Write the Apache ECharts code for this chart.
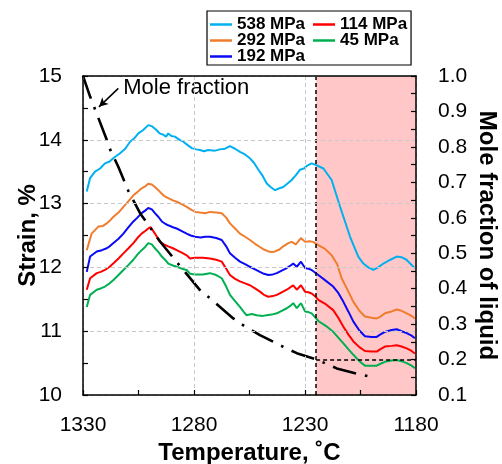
<!DOCTYPE html>
<html>
<head>
<meta charset="utf-8">
<script src="https://cdn.jsdelivr.net/npm/echarts@6/dist/echarts.min.js"></script>
<style>
  html, body { margin: 0; padding: 0; background: #fff; }
  #chart { width: 502px; height: 464px; }
</style>
</head>
<body>
<div id="chart"></div>
<script>
// Strain (%) versus temperature (°C) for each applied stress, as [T, strain] pairs.
const strain538 = [
  [1328.3,13.19],[1326.8,13.40],[1324.6,13.50],[1322.3,13.55],[1320.1,13.63],[1318.0,13.66],[1316.4,13.71],
  [1313.3,13.79],[1311.0,13.86],[1308.8,13.97],[1307.0,14.02],[1305.1,14.10],[1303.0,14.15],[1300.6,14.23],
  [1298.8,14.21],[1296.8,14.15],[1295.5,14.10],[1293.8,14.08],[1292.6,14.05],[1291.6,14.10],[1290.2,14.06],
  [1288.6,14.05],[1286.5,14.00],[1284.8,13.97],[1283.0,13.92],[1281.0,13.87],[1279.0,13.85],[1277.3,13.84],
  [1275.5,13.82],[1273.6,13.84],[1272.8,13.81],[1270.5,13.83],[1268.3,13.85],[1266.0,13.86],[1263.8,13.90],
  [1261.5,13.86],[1259.3,13.81],[1257.0,13.77],[1254.8,13.71],[1253.0,13.64],[1251.0,13.53],[1249.0,13.43],
  [1247.3,13.32],[1245.5,13.26],[1243.5,13.21],[1241.5,13.24],[1239.8,13.26],[1238.0,13.31],[1236.0,13.37],
  [1234.0,13.45],[1232.3,13.53],[1230.5,13.55],[1229.2,13.59],[1227.0,13.63],[1224.7,13.60],[1221.7,13.55],
  [1218.0,13.37],[1214.2,12.95],[1209.7,12.48],[1206.0,12.17],[1203.7,12.06],[1201.5,12.00],[1199.2,11.96],
  [1197.0,12.00],[1194.7,12.06],[1191.5,12.12],[1188.7,12.17],[1186.5,12.16],[1184.3,12.12],[1181.2,12.01],
  [1180.5,11.99]
];
const strain292 = [
  [1328.3,12.27],[1326.1,12.53],[1323.1,12.64],[1321.0,12.65],[1319.3,12.69],[1318.0,12.73],[1316.4,12.79],
  [1314.0,12.86],[1311.8,12.95],[1309.5,13.04],[1307.3,13.13],[1305.5,13.18],[1303.6,13.24],[1302.0,13.27],
  [1300.6,13.31],[1299.0,13.30],[1297.6,13.26],[1295.8,13.20],[1293.8,13.13],[1292.5,13.10],[1291.6,13.08],
  [1289.5,13.05],[1287.8,13.03],[1285.5,12.99],[1283.3,12.95],[1281.5,12.91],[1279.5,12.87],[1277.3,12.86],
  [1275.0,12.85],[1272.8,12.87],[1270.0,12.86],[1267.5,12.85],[1265.5,12.78],[1263.8,12.69],[1261.5,12.61],
  [1259.3,12.53],[1257.0,12.48],[1254.8,12.43],[1252.5,12.37],[1250.3,12.32],[1248.5,12.28],[1246.5,12.25],
  [1245.0,12.24],[1243.5,12.25],[1241.5,12.28],[1239.8,12.33],[1237.5,12.38],[1236.0,12.40],[1234.1,12.36],
  [1233.0,12.41],[1231.8,12.46],[1230.0,12.40],[1228.0,12.41],[1226.3,12.40],[1224.0,12.35],[1221.0,12.29],
  [1218.0,12.19],[1215.5,12.05],[1213.5,11.83],[1211.0,11.66],[1208.2,11.46],[1205.5,11.32],[1203.0,11.23],
  [1200.0,11.21],[1197.7,11.20],[1196.0,11.23],[1194.0,11.28],[1191.0,11.31],[1188.7,11.34],[1186.5,11.32],
  [1184.2,11.28],[1182.0,11.24],[1180.5,11.20]
];
const strain192 = [
  [1328.3,11.93],[1326.8,12.17],[1323.8,12.25],[1321.5,12.27],[1319.3,12.30],[1318.0,12.33],[1316.4,12.38],
  [1314.0,12.45],[1311.8,12.53],[1309.5,12.63],[1307.3,12.72],[1305.5,12.78],[1303.6,12.85],[1302.0,12.89],
  [1300.6,12.93],[1299.0,12.91],[1297.6,12.85],[1296.0,12.79],[1294.5,12.72],[1292.8,12.68],[1291.6,12.66],
  [1289.5,12.63],[1287.8,12.61],[1285.5,12.57],[1283.3,12.53],[1281.5,12.50],[1279.5,12.48],[1277.0,12.47],
  [1275.0,12.48],[1272.8,12.48],[1270.0,12.46],[1267.5,12.43],[1265.5,12.33],[1263.8,12.22],[1261.5,12.15],
  [1259.3,12.09],[1257.0,12.05],[1254.8,12.01],[1252.5,11.97],[1250.3,11.93],[1248.5,11.90],[1246.5,11.88],
  [1244.5,11.89],[1242.7,11.91],[1240.5,11.95],[1238.2,11.99],[1236.5,12.03],[1235.3,12.06],[1233.7,12.01],
  [1231.8,12.09],[1230.0,11.99],[1228.5,11.98],[1227.0,11.96],[1225.5,11.92],[1224.0,11.88],[1221.0,11.80],
  [1217.3,11.70],[1215.0,11.60],[1212.7,11.46],[1210.5,11.31],[1208.2,11.15],[1205.5,11.01],[1203.0,10.92],
  [1200.0,10.91],[1197.7,10.91],[1196.0,10.95],[1194.0,10.99],[1191.0,11.02],[1188.7,11.03],[1186.5,11.00],
  [1184.2,10.97],[1182.0,10.93],[1180.5,10.89]
];
const strain114 = [
  [1328.3,11.65],[1326.8,11.83],[1323.8,11.91],[1322.0,11.93],[1320.1,11.96],[1318.0,12.01],[1316.4,12.06],
  [1314.0,12.14],[1311.8,12.22],[1309.5,12.30],[1307.3,12.38],[1305.5,12.46],[1303.6,12.53],[1302.0,12.57],
  [1300.6,12.61],[1299.5,12.63],[1297.6,12.53],[1295.3,12.40],[1293.5,12.36],[1291.6,12.33],[1289.5,12.30],
  [1287.8,12.27],[1285.5,12.23],[1283.3,12.19],[1281.8,12.14],[1279.5,12.15],[1278.8,12.14],[1276.0,12.15],
  [1272.8,12.14],[1270.0,12.12],[1267.5,12.09],[1265.5,11.98],[1263.8,11.88],[1261.5,11.82],[1259.3,11.78],
  [1257.0,11.75],[1254.8,11.72],[1252.5,11.67],[1250.3,11.62],[1248.5,11.57],[1246.5,11.54],[1244.5,11.55],
  [1242.7,11.57],[1240.5,11.61],[1238.2,11.65],[1236.5,11.69],[1235.3,11.72],[1233.7,11.65],[1231.8,11.72],
  [1230.0,11.62],[1228.5,11.61],[1227.0,11.59],[1225.5,11.55],[1224.0,11.49],[1220.5,11.42],[1217.3,11.33],
  [1215.0,11.21],[1212.7,11.07],[1210.5,10.95],[1208.2,10.84],[1205.5,10.75],[1203.0,10.69],[1200.0,10.68],
  [1197.7,10.68],[1196.0,10.72],[1194.0,10.76],[1191.0,10.77],[1188.7,10.78],[1186.5,10.76],[1184.2,10.73],
  [1182.0,10.69],[1180.5,10.65]
];
const strain45 = [
  [1328.3,11.38],[1326.8,11.57],[1323.8,11.65],[1322.0,11.67],[1320.1,11.70],[1318.0,11.75],[1316.4,11.80],
  [1314.0,11.88],[1311.8,11.96],[1309.5,12.04],[1307.3,12.12],[1305.5,12.20],[1303.6,12.27],[1302.0,12.32],
  [1300.6,12.38],[1299.0,12.36],[1297.6,12.30],[1296.0,12.24],[1294.5,12.17],[1292.5,12.10],[1291.6,12.06],
  [1289.5,12.03],[1287.8,12.01],[1285.5,11.98],[1283.3,11.96],[1281.8,11.90],[1279.5,11.89],[1278.8,11.88],
  [1276.0,11.89],[1272.8,11.91],[1270.0,11.88],[1267.5,11.83],[1265.5,11.70],[1263.8,11.57],[1261.5,11.47],
  [1259.3,11.38],[1257.5,11.30],[1256.3,11.25],[1254.0,11.27],[1251.8,11.25],[1249.0,11.24],[1247.3,11.25],
  [1245.0,11.26],[1242.7,11.28],[1240.5,11.32],[1238.2,11.36],[1236.5,11.40],[1235.3,11.44],[1233.7,11.36],
  [1231.8,11.44],[1230.0,11.31],[1228.5,11.30],[1227.0,11.28],[1225.5,11.22],[1224.0,11.16],[1220.5,11.08],
  [1217.3,10.99],[1215.0,10.90],[1212.7,10.81],[1210.5,10.72],[1208.2,10.63],[1205.5,10.53],[1203.0,10.46],
  [1200.0,10.46],[1197.7,10.46],[1196.0,10.49],[1194.0,10.52],[1191.0,10.54],[1188.7,10.55],[1186.5,10.53],
  [1184.2,10.50],[1182.0,10.46],[1180.5,10.42]
];

// Calculated mole fraction of liquid versus temperature, as [T, fraction] pairs.
const moleFraction = [
  [1330.0,1.000],[1326.8,0.942],[1323.1,0.882],[1319.3,0.820],[1317.8,0.793],[1314.1,0.744],[1309.6,0.676],
  [1304.3,0.613],[1295.3,0.533],[1287.1,0.470],[1277.3,0.396],[1272.8,0.373],[1262.3,0.316],[1257.0,0.293],
  [1250.3,0.269],[1239.8,0.236],[1233.7,0.218],[1224.7,0.200],[1215.7,0.175],[1206.0,0.159],[1200.7,0.152]
];

// Series names, legend columns and the reference values marked on the plot.
const seriesNames = ['538 MPa', '292 MPa', '192 MPa', '114 MPa', '45 MPa'];
const legendColumnA = ['538 MPa', '292 MPa', '192 MPa'];
const legendColumnB = ['114 MPa', '45 MPa'];
const solidusTemperature = 1225;
const solidusFraction = 0.2;
const annotationText = 'Mole fraction';
const annotationFrom = [1314.1, 0.965];
const annotationTo = [1322.8, 0.913];

// Axis ranges and tick steps.
const tempRange = [1180, 1330];
const tempStep = 50;
const strainRange = [10, 15];
const strainStep = 1;
const fractionRange = [0.1, 1.0];
const fractionStep = 0.1;

const FONT = '"Liberation Sans", Arial, Helvetica, sans-serif';
const colors = ['#00B0F0', '#F07D2E', '#0A0AF5', '#FF0000', '#00B050'];
const strainData = [strain538, strain292, strain192, strain114, strain45];

const chart = echarts.init(document.getElementById('chart'), null, { renderer: 'canvas' });

const strainSeries = seriesNames.map((name, i) => ({
  name: name,
  type: 'line',
  data: strainData[i],
  symbol: 'none',
  showSymbol: false,
  silent: true,
  z: 3,
  itemStyle: { color: colors[i] },
  lineStyle: { color: colors[i], width: 2 }
}));

const frameLine = { show: true, onZero: false, lineStyle: { color: '#000', width: 1.5 } };
const tickStyle = { color: '#000', width: 1.2 };
const labelStyle = { color: '#000', fontSize: 21, fontFamily: FONT };
const titleStyle = { color: '#000', fontSize: 24, fontWeight: 'bold', fontFamily: FONT };
const gridLine = { show: true, lineStyle: { color: '#c8c8c8', type: [4, 3], width: 1 } };
const legendText = { color: '#000', fontSize: 17, fontWeight: 'bold', fontFamily: FONT };

chart.setOption({
  animation: false,
  backgroundColor: '#fff',
  grid: { left: 83, right: 86, top: 76, bottom: 69, containLabel: false, outerBoundsMode: 'none' },
  legend: [
    {
      data: legendColumnA,
      orient: 'vertical', left: 207, top: 11,
      icon: 'rect', itemWidth: 22, itemHeight: 2.5, itemGap: -1,
      padding: [5, 106, 0, 3],
      borderColor: '#000', borderWidth: 1.2,
      selectedMode: false,
      textStyle: legendText
    },
    {
      data: legendColumnB,
      orient: 'vertical', left: 313, top: 16,
      icon: 'rect', itemWidth: 22, itemHeight: 2.5, itemGap: -1,
      padding: 0,
      selectedMode: false,
      textStyle: legendText
    }
  ],
  xAxis: [
    {
      type: 'value', inverse: true,
      min: tempRange[0], max: tempRange[1], interval: tempStep,
      name: 'Temperature, \u02DAC', nameLocation: 'middle', nameGap: 46, nameMoveOverlap: false,
      nameTextStyle: titleStyle,
      axisLine: frameLine,
      axisTick: { show: true, inside: true, length: 5, lineStyle: tickStyle },
      minorTick: { show: true, splitNumber: 2, length: 5, lineStyle: tickStyle },
      axisLabel: Object.assign({ margin: 20, formatter: v => String(v) }, labelStyle),
      splitLine: gridLine,
      z: 20
    },
    {
      // top edge of the plot frame
      type: 'value', position: 'top', inverse: true,
      min: tempRange[0], max: tempRange[1],
      axisLine: frameLine,
      axisTick: { show: false }, axisLabel: { show: false }, splitLine: { show: false },
      z: 20
    }
  ],
  yAxis: [
    {
      type: 'value',
      min: strainRange[0], max: strainRange[1], interval: strainStep,
      name: 'Strain, %', nameLocation: 'middle', nameGap: 43, nameRotate: 90, nameMoveOverlap: false,
      nameTextStyle: titleStyle,
      axisLine: frameLine,
      axisTick: { show: true, inside: true, length: 5, lineStyle: tickStyle },
      minorTick: { show: true, splitNumber: 2, length: 5, lineStyle: tickStyle },
      axisLabel: Object.assign({ margin: 21 }, labelStyle),
      splitLine: gridLine,
      z: 20
    },
    {
      type: 'value', position: 'right',
      min: fractionRange[0], max: fractionRange[1], interval: fractionStep,
      name: 'Mole fraction of liquid', nameLocation: 'middle', nameGap: 59, nameRotate: -90, nameMoveOverlap: false,
      nameTextStyle: titleStyle,
      axisLine: frameLine,
      axisTick: { show: true, inside: true, length: 5, lineStyle: tickStyle },
      minorTick: { show: true, splitNumber: 2, length: 5, lineStyle: tickStyle },
      axisLabel: Object.assign({ margin: 22, formatter: v => v.toFixed(1) }, labelStyle),
      splitLine: { show: false },
      z: 20
    }
  ],
  series: strainSeries.concat([
    {
      name: 'Mole fraction',
      type: 'line',
      yAxisIndex: 1,
      data: moleFraction,
      symbol: 'none',
      showSymbol: false,
      silent: true,
      z: 4,
      lineStyle: { color: '#000', width: 2.6, type: [24, 9, 2.6, 9] },
      markLine: {
        silent: true,
        symbol: ['none', 'none'],
        label: { show: false },
        lineStyle: { color: '#000', width: 1.5, type: [4, 3] },
        data: [
          [{ coord: [solidusTemperature, fractionRange[0]] }, { coord: [solidusTemperature, fractionRange[1]] }],
          [{ coord: [solidusTemperature, solidusFraction] }, { coord: [tempRange[0], solidusFraction] }],
          [
            { coord: annotationFrom, symbol: 'none', lineStyle: { type: 'solid', width: 1.5, color: '#000' } },
            { coord: annotationTo, symbol: 'arrow', symbolSize: [7, 9] }
          ]
        ]
      },
      markPoint: {
        silent: true,
        data: [{
          coord: annotationFrom,
          symbol: 'circle', symbolSize: 0,
          label: {
            show: true, position: 'right', distance: 5,
            formatter: annotationText, color: '#000', fontSize: 22, fontFamily: FONT
          }
        }]
      }
    },
    {
      name: 'liquid region',
      type: 'line',
      data: [],
      silent: true,
      z: 10,
      markArea: {
        silent: true,
        itemStyle: { color: 'rgba(255, 0, 0, 0.22)' },
        data: [[{ xAxis: solidusTemperature }, { xAxis: tempRange[0] }]]
      }
    }
  ])
});
</script>
</body>
</html>
